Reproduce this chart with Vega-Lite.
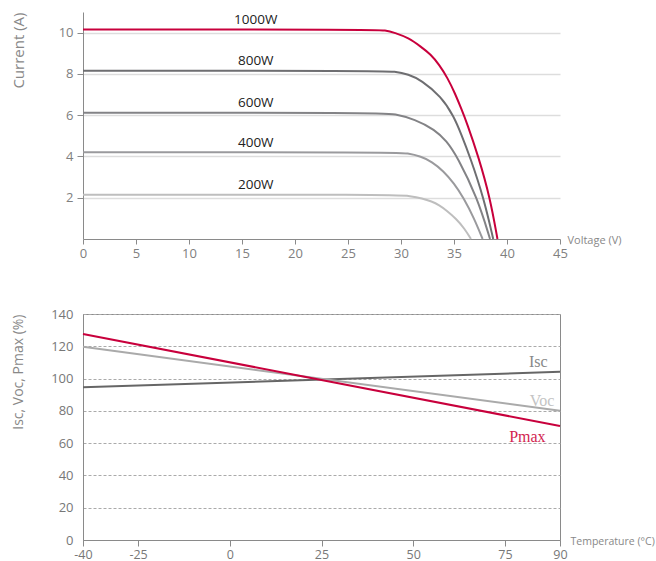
{
  "$schema": "https://vega.github.io/schema/vega-lite/v6.json",
  "padding": {"left": 10, "top": 12, "right": 0, "bottom": 0},
  "background": "white",
  "config": {
    "font": "Open Sans",
    "axis": {
      "labelFont": "Open Sans",
      "titleFont": "Open Sans",
      "labelColor": "#808080",
      "titleColor": "#888888",
      "domainColor": "#8a8a8a",
      "tickColor": "#8a8a8a",
      "labelFontSize": 13,
      "titleFontWeight": "normal",
      "labelOverlap": false
    }
  },
  "datasets": {
    "iv": [
      {"irr": "200W", "v": 0, "i": 2.15},
      {"irr": "200W", "v": 29.4, "i": 2.15},
      {"irr": "200W", "v": 30.9, "i": 2.08},
      {"irr": "200W", "v": 32.0, "i": 1.97},
      {"irr": "200W", "v": 32.9, "i": 1.82},
      {"irr": "200W", "v": 33.6, "i": 1.64},
      {"irr": "200W", "v": 34.3, "i": 1.38},
      {"irr": "200W", "v": 35.2, "i": 0.98},
      {"irr": "200W", "v": 36.0, "i": 0.5},
      {"irr": "200W", "v": 36.6, "i": 0},
      {"irr": "400W", "v": 0, "i": 4.2},
      {"irr": "400W", "v": 29.5, "i": 4.2},
      {"irr": "400W", "v": 30.6, "i": 4.16},
      {"irr": "400W", "v": 31.9, "i": 4.0},
      {"irr": "400W", "v": 32.9, "i": 3.75},
      {"irr": "400W", "v": 34.0, "i": 3.3},
      {"irr": "400W", "v": 35.0, "i": 2.7},
      {"irr": "400W", "v": 35.9, "i": 2.0},
      {"irr": "400W", "v": 36.9, "i": 1.0},
      {"irr": "400W", "v": 37.7, "i": 0},
      {"irr": "600W", "v": 0, "i": 6.12},
      {"irr": "600W", "v": 28.0, "i": 6.12},
      {"irr": "600W", "v": 29.4, "i": 6.07},
      {"irr": "600W", "v": 31.3, "i": 5.8},
      {"irr": "600W", "v": 33.2, "i": 5.3},
      {"irr": "600W", "v": 34.3, "i": 4.75},
      {"irr": "600W", "v": 35.3, "i": 4.0},
      {"irr": "600W", "v": 37.2, "i": 2.0},
      {"irr": "600W", "v": 38.4, "i": 0},
      {"irr": "800W", "v": 0, "i": 8.15},
      {"irr": "800W", "v": 28.0, "i": 8.15},
      {"irr": "800W", "v": 29.4, "i": 8.12},
      {"irr": "800W", "v": 30.7, "i": 7.98},
      {"irr": "800W", "v": 31.9, "i": 7.7},
      {"irr": "800W", "v": 33.8, "i": 6.9},
      {"irr": "800W", "v": 35.0, "i": 5.93},
      {"irr": "800W", "v": 35.7, "i": 5.05},
      {"irr": "800W", "v": 36.5, "i": 4.0},
      {"irr": "800W", "v": 37.8, "i": 2.0},
      {"irr": "800W", "v": 38.7, "i": 0},
      {"irr": "1000W", "v": 0, "i": 10.15},
      {"irr": "1000W", "v": 27.5, "i": 10.15},
      {"irr": "1000W", "v": 28.5, "i": 10.12},
      {"irr": "1000W", "v": 29.4, "i": 10.0},
      {"irr": "1000W", "v": 30.7, "i": 9.75},
      {"irr": "1000W", "v": 31.9, "i": 9.31},
      {"irr": "1000W", "v": 32.8, "i": 8.95},
      {"irr": "1000W", "v": 33.6, "i": 8.45},
      {"irr": "1000W", "v": 34.4, "i": 7.8},
      {"irr": "1000W", "v": 35.1, "i": 7.05},
      {"irr": "1000W", "v": 35.7, "i": 6.3},
      {"irr": "1000W", "v": 36.2, "i": 5.65},
      {"irr": "1000W", "v": 37.3, "i": 4.0},
      {"irr": "1000W", "v": 38.4, "i": 2.0},
      {"irr": "1000W", "v": 39.1, "i": 0}
    ],
    "ivlabels": [
      {"irr": "1000W", "v": 16.3, "i": 10.15},
      {"irr": "800W", "v": 16.3, "i": 8.15},
      {"irr": "600W", "v": 16.3, "i": 6.12},
      {"irr": "400W", "v": 16.3, "i": 4.2},
      {"irr": "200W", "v": 16.3, "i": 2.15}
    ],
    "temp": [
      {"series": "Isc", "t": -40, "pct": 94.6},
      {"series": "Isc", "t": 90, "pct": 104.2},
      {"series": "Voc", "t": -40, "pct": 119.7},
      {"series": "Voc", "t": 90, "pct": 80.1},
      {"series": "Pmax", "t": -40, "pct": 127.6},
      {"series": "Pmax", "t": 90, "pct": 70.6}
    ],
    "templabels": [
      {"series": "Isc", "t": 84.1, "pct": 110},
      {"series": "Voc", "t": 85.1, "pct": 86.4},
      {"series": "Pmax", "t": 81.1, "pct": 63.8}
    ]
  },
  "spacing": 75,
  "bounds": "flush",
  "vconcat": [
    {
      "width": 477,
      "height": 227,
      "view": {"stroke": null},
      "layer": [
        {
          "data": {"name": "iv"},
          "mark": {"type": "line", "interpolate": "basis", "strokeWidth": 2},
          "encoding": {
            "x": {
              "field": "v", "type": "quantitative",
              "scale": {"domain": [0, 45], "nice": false},
              "axis": {
                "values": [0, 5, 10, 15, 20, 25, 30, 35, 40, 45],
                "title": "Voltage (V)",
                "titleX": 484, "titleY": 1,
                "titleAlign": "left", "titleBaseline": "middle", "titleAngle": 0,
                "titleFontSize": 11,
                "labelFlush": false,
                "tickSize": 5, "labelPadding": 3,
                "grid": false
              }
            },
            "y": {
              "field": "i", "type": "quantitative",
              "scale": {"domain": [0, 11], "nice": false},
              "axis": {
                "values": [2, 4, 6, 8, 10],
                "title": "Current (A)",
                "titleAngle": -90, "titleX": -64.5, "titleY": 0,
                "titleAlign": "right", "titleBaseline": "middle",
                "titleFontSize": 15,
                "tickSize": 6, "labelPadding": 4,
                "grid": true, "gridColor": "#dddddd", "gridWidth": 1.5
              }
            },
            "color": {
              "field": "irr", "type": "nominal",
              "scale": {
                "domain": ["200W", "400W", "600W", "800W", "1000W"],
                "range": ["#bebebe", "#9a9a9d", "#838386", "#6e6e71", "#c8003c"]
              },
              "legend": null
            }
          }
        },
        {
          "data": {"name": "ivlabels"},
          "mark": {"type": "text", "dy": -9.5, "fontSize": 13.5, "color": "#222222", "font": "Open Sans"},
          "encoding": {
            "x": {"field": "v", "type": "quantitative"},
            "y": {"field": "i", "type": "quantitative"},
            "text": {"field": "irr"}
          }
        }
      ]
    },
    {
      "width": 477,
      "height": 226,
      "view": {"stroke": "#8a8a8a", "strokeWidth": 1},
      "resolve": {"scale": {"color": "independent"}},
      "layer": [
        {
          "data": {"name": "temp"},
          "mark": {"type": "line", "strokeWidth": 2},
          "encoding": {
            "x": {
              "field": "t", "type": "quantitative",
              "scale": {"domain": [-40, 90], "nice": false},
              "axis": {
                "values": [-40, -25, 0, 25, 50, 75, 90],
                "labelExpr": "'' + datum.value",
                "title": "Temperature (°C)",
                "titleX": 487, "titleY": 1,
                "titleAlign": "left", "titleBaseline": "middle", "titleAngle": 0,
                "titleFontSize": 10.5,
                "labelFlush": false,
                "labelFontSize": 12.5,
                "tickSize": 6, "labelPadding": 2,
                "grid": false, "labelColor": "#777777"
              }
            },
            "y": {
              "field": "pct", "type": "quantitative",
              "scale": {"domain": [0, 140], "nice": false},
              "axis": {
                "values": [0, 20, 40, 60, 80, 100, 120, 140],
                "labelOverlap": false,
                "tickCount": 8,
                "title": "Isc, Voc, Pmax (%)",
                "titleAngle": -90, "titleX": -64.5, "titleY": 0,
                "titleAlign": "right", "titleBaseline": "middle",
                "titleFontSize": 14,
                "ticks": false, "labelPadding": 10,
                "labelColor": "#777777",
                "grid": true, "gridColor": "#aaaaaa", "gridDash": [3, 2]
              }
            },
            "color": {
              "field": "series", "type": "nominal",
              "scale": {"domain": ["Isc", "Voc", "Pmax"], "range": ["#666666", "#aaaaaa", "#c8003c"]},
              "legend": null
            }
          }
        },
        {
          "data": {"name": "templabels"},
          "mark": {"type": "text", "font": "Liberation Serif", "fontSize": 16, "baseline": "middle"},
          "encoding": {
            "x": {"field": "t", "type": "quantitative"},
            "y": {"field": "pct", "type": "quantitative"},
            "text": {"field": "series"},
            "color": {
              "field": "series", "type": "nominal",
              "scale": {"domain": ["Isc", "Voc", "Pmax"], "range": ["#888888", "#c4c4c4", "#d21e50"]},
              "legend": null
            }
          }
        }
      ]
    }
  ]
}
